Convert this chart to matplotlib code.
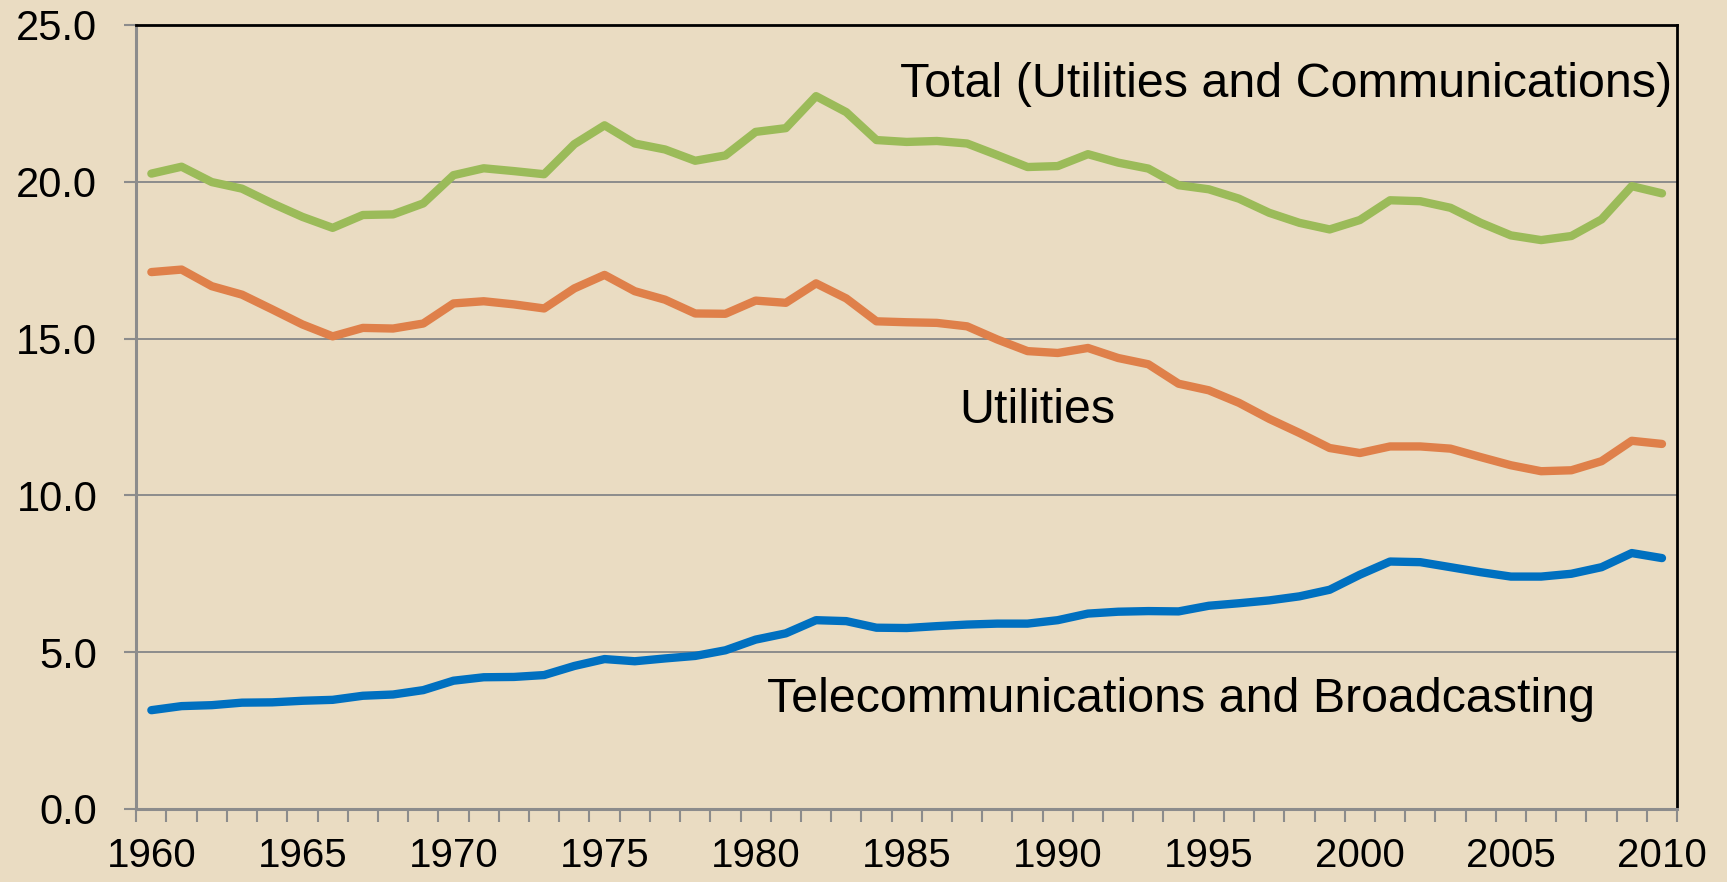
import matplotlib
matplotlib.use("Agg")
import matplotlib.pyplot as plt
from matplotlib.ticker import FixedLocator, FixedFormatter

years = list(range(1960, 2011))

total = [20.26, 20.48, 19.99, 19.78, 19.31, 18.88, 18.53, 18.94, 18.96, 19.31,
         20.21, 20.43, 20.34, 20.24, 21.20, 21.80, 21.22, 21.03, 20.67, 20.84,
         21.59, 21.71, 22.73, 22.22, 21.33, 21.27, 21.30, 21.22, 20.85, 20.47,
         20.50, 20.88, 20.61, 20.42, 19.89, 19.76, 19.46, 19.01, 18.69, 18.48,
         18.78, 19.41, 19.38, 19.17, 18.69, 18.29, 18.14, 18.27, 18.80, 19.86,
         19.63]

utilities = [17.12, 17.20, 16.67, 16.40, 15.93, 15.45, 15.07, 15.34, 15.32, 15.48,
             16.12, 16.19, 16.09, 15.96, 16.60, 17.03, 16.51, 16.24, 15.80, 15.79,
             16.21, 16.14, 16.76, 16.28, 15.55, 15.52, 15.50, 15.39, 14.97, 14.60,
             14.54, 14.70, 14.38, 14.18, 13.56, 13.35, 12.95, 12.44, 11.99, 11.51,
             11.35, 11.56, 11.56, 11.49, 11.22, 10.96, 10.77, 10.80, 11.09, 11.74,
             11.64]

telecom = [3.15, 3.28, 3.31, 3.39, 3.40, 3.45, 3.48, 3.61, 3.65, 3.79,
           4.09, 4.20, 4.21, 4.27, 4.56, 4.78, 4.71, 4.80, 4.88, 5.06,
           5.40, 5.60, 6.02, 5.99, 5.78, 5.77, 5.83, 5.88, 5.91, 5.91,
           6.02, 6.23, 6.29, 6.31, 6.30, 6.48, 6.56, 6.65, 6.78, 6.99,
           7.47, 7.89, 7.87, 7.71, 7.55, 7.41, 7.41, 7.50, 7.71, 8.16,
           8.00]

series_labels = ["Total (Utilities and Communications)", "Utilities",
                 "Telecommunications and Broadcasting"]
y_ticks = [0, 5, 10, 15, 20, 25]
x_label_years = list(range(1960, 2011, 5))

BG = "#EADCC2"
GREEN = "#9BBB59"
ORANGE = "#DF804A"
BLUE = "#0070C0"
GRID = "#8C8C8C"

plt.rcParams["font.family"] = ["Liberation Sans", "DejaVu Sans"]

fig = plt.figure(figsize=(17.27, 8.82), dpi=100, facecolor=BG)
ax = fig.add_axes([0.0789, 0.0828, 0.8922, 0.8889], facecolor=BG)

x = list(range(len(years)))
lw = 6.0
for vals, col in [(total, GREEN), (utilities, ORANGE), (telecom, BLUE)]:
    ax.plot(x, vals, color=col, lw=lw, solid_capstyle="round",
            solid_joinstyle="round", zorder=3)

ax.set_xlim(-0.5, len(years) - 0.5)
ax.set_ylim(0, 25)

# y axis
ax.yaxis.set_major_locator(FixedLocator(y_ticks))
ax.yaxis.set_major_formatter(FixedFormatter([f"{v:.1f}" for v in y_ticks]))
ax.tick_params(axis="y", which="major", length=9, width=1.5, color=GRID,
               labelsize=30, pad=19, direction="out")
ax.grid(axis="y", color=GRID, lw=1.4, zorder=1)

# x axis: category labels, ticks between categories
label_pos = [years.index(y) for y in x_label_years]
ax.xaxis.set_major_locator(FixedLocator(label_pos))
ax.xaxis.set_major_formatter(FixedFormatter([str(y) for y in x_label_years]))
ax.xaxis.set_minor_locator(FixedLocator([i - 0.5 for i in range(len(years) + 1)]))
ax.tick_params(axis="x", which="major", length=0, labelsize=29, pad=20.5)
ax.tick_params(axis="x", which="minor", length=9, width=1.5, color=GRID, direction="out")

for s in ["left", "bottom"]:
    ax.spines[s].set_color(GRID)
    ax.spines[s].set_linewidth(2.2)
for s in ["top", "right"]:
    ax.spines[s].set_color("black")
    ax.spines[s].set_linewidth(2.0)

ax.text(24.78, 22.70, series_labels[0], fontsize=34.8, ha="left", va="baseline", color="black")
ax.text(26.73, 12.30, series_labels[1], fontsize=34.8, ha="left", va="baseline", color="black")
ax.text(20.38, 3.08, series_labels[2], fontsize=34.8, ha="left", va="baseline", color="black")

fig.savefig("out.png", dpi=100, facecolor=BG)
